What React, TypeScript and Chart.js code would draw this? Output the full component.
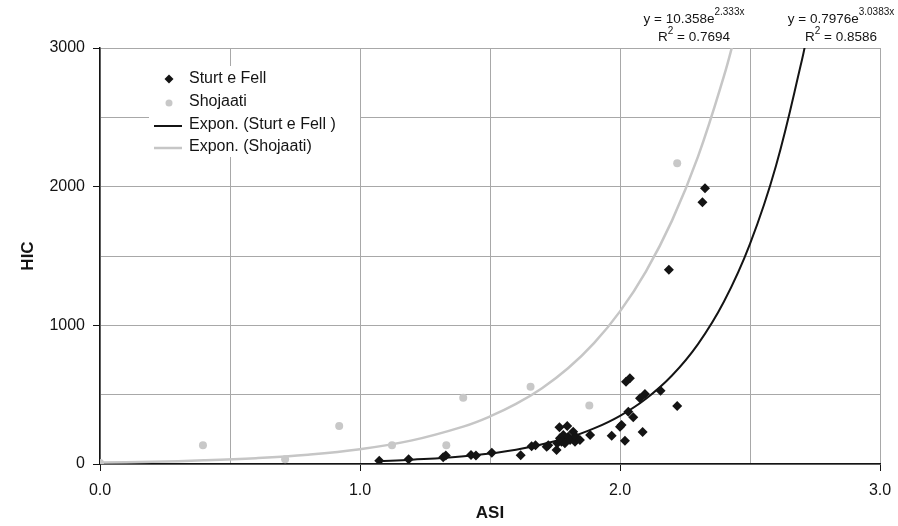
import React, { useEffect, useRef } from "react";
import { Chart, registerables } from "chart.js";
Chart.register(...registerables);

// Sturt e Fell measurements (ASI, HIC)
const sturtASI = [1.074, 1.187, 1.32, 1.33, 1.427, 1.446, 1.507, 1.618, 1.66, 1.675, 1.718, 1.724, 1.756, 1.759, 1.767, 1.769, 1.775, 1.782, 1.788, 1.797, 1.801, 1.808, 1.82, 1.827, 1.83, 1.846, 1.885, 1.968, 2.0, 2.006, 2.019, 2.023, 2.032, 2.038, 2.051, 2.077, 2.087, 2.096, 2.156, 2.188, 2.22, 2.317, 2.327];
const sturtHIC = [24, 34, 48, 62, 65, 62, 82, 64, 128, 135, 125, 135, 101, 150, 265, 185, 161, 209, 149, 274, 197, 173, 233, 161, 197, 173, 209, 204, 269, 281, 168, 594, 377, 618, 337, 474, 231, 505, 529, 1400, 418, 1887, 1988];

// Shojaati measurements (ASI, HIC)
const shojaatiASI = [0, 0.396, 0.712, 0.92, 1.123, 1.332, 1.397, 1.656, 1.882, 2.22];
const shojaatiHIC = [8, 135, 34, 274, 135, 135, 478, 557, 421, 2168];

// Exponential trend lines
const trendShojaatiASI = [0, 0.2, 0.4, 0.6, 0.8, 1.0, 1.2, 1.4, 1.5, 1.6, 1.7, 1.8, 1.9, 2.0, 2.1, 2.2, 2.3, 2.4, 2.45];
const trendShojaatiHIC = [10.4, 16.5, 26.3, 42.0, 67.0, 106.8, 170.3, 271.5, 342.8, 432.9, 546.7, 690.3, 871.6, 1100.7, 1389.9, 1755.2, 2216.4, 2798.7, 3145];
const trendSturtASI = [1.07, 1.2, 1.4, 1.6, 1.8, 1.9, 2.0, 2.1, 2.2, 2.3, 2.4, 2.5, 2.6, 2.7, 2.72];
const trendSturtHIC = [20.6, 30.6, 56.1, 103.0, 189.2, 256.4, 347.5, 470.8, 638.0, 864.6, 1171.5, 1587.6, 2151.2, 2915, 3098];

const seriesNames = ["Sturt e Fell", "Shojaati", "Expon. (Sturt e Fell )", "Expon. (Shojaati)"];
const equationShojaati = { base: "y = 10.358e", sup: "2.333x", r2: "0.7694" };
const equationSturt = { base: "y = 0.7976e", sup: "3.0383x", r2: "0.8586" };

const FONT = "'Liberation Sans', Arial, Helvetica, sans-serif";
const BLACK = "#141414";
const GRAY_PT = "#c8c8c8";
const GRAY_LINE = "#c6c6c6";
const GRID = "#a8a8a8";

const pts = (xs: number[], ys: number[]) => xs.map((x, i) => ({ x, y: ys[i] }));

export default function App() {
  const ref = useRef<HTMLCanvasElement>(null);
  useEffect(() => {
    document.body.style.margin = "0";
    const canvas = ref.current!;

    const drawEq = (ctx: CanvasRenderingContext2D, eq: { base: string; sup: string; r2: string }, cx: number) => {
      ctx.save();
      ctx.fillStyle = BLACK;
      ctx.textBaseline = "alphabetic";
      ctx.textAlign = "left";
      const f1 = `13.5px ${FONT}`;
      const f2 = `10px ${FONT}`;
      ctx.font = f1;
      const w1 = ctx.measureText(eq.base).width;
      ctx.font = f2;
      const w2 = ctx.measureText(eq.sup).width;
      let x = cx - (w1 + w2) / 2;
      ctx.font = f1;
      ctx.fillText(eq.base, x, 23);
      ctx.font = f2;
      ctx.fillText(eq.sup, x + w1, 15);
      ctx.font = f1;
      const a = "R";
      const b = " = " + eq.r2;
      const wa = ctx.measureText(a).width;
      const wb = ctx.measureText(b).width;
      ctx.font = f2;
      const ws = ctx.measureText("2").width;
      x = cx - (wa + ws + wb) / 2;
      ctx.font = f1;
      ctx.fillText(a, x, 41);
      ctx.font = f2;
      ctx.fillText("2", x + wa, 34);
      ctx.font = f1;
      ctx.fillText(b, x + wa + ws, 41);
      ctx.restore();
    };

    const overlay = {
      id: "overlay",
      afterDraw(chart: any) {
        const ctx: CanvasRenderingContext2D = chart.ctx;
        ctx.save();
        ctx.fillStyle = "#ffffff";
        ctx.fillRect(149, 66, 211, 91);
        const rows = [79, 102, 125, 147];
        ctx.font = `16px ${FONT}`;
        ctx.textBaseline = "middle";
        ctx.textAlign = "left";
        ctx.fillStyle = BLACK;
        rows.forEach((y, i) => ctx.fillText(seriesNames[i], 189, y));
        ctx.fillStyle = BLACK;
        ctx.beginPath();
        ctx.moveTo(169, rows[0] - 4.5);
        ctx.lineTo(173.5, rows[0]);
        ctx.lineTo(169, rows[0] + 4.5);
        ctx.lineTo(164.5, rows[0]);
        ctx.closePath();
        ctx.fill();
        ctx.fillStyle = GRAY_PT;
        ctx.beginPath();
        ctx.arc(169, rows[1] + 1, 3.5, 0, Math.PI * 2);
        ctx.fill();
        ctx.lineWidth = 2;
        ctx.strokeStyle = BLACK;
        ctx.beginPath();
        ctx.moveTo(154, rows[2] + 1);
        ctx.lineTo(182, rows[2] + 1);
        ctx.stroke();
        ctx.lineWidth = 2.5;
        ctx.strokeStyle = GRAY_LINE;
        ctx.beginPath();
        ctx.moveTo(154, rows[3] + 1);
        ctx.lineTo(182, rows[3] + 1);
        ctx.stroke();
        ctx.restore();
        drawEq(ctx, equationShojaati, 694);
        drawEq(ctx, equationSturt, 841);
      },
    };

    const chart = new Chart(canvas, {
      type: "scatter",
      data: {
        datasets: [
          {
            label: seriesNames[0],
            data: pts(sturtASI, sturtHIC),
            pointStyle: "rectRot",
            pointRadius: 5,
            backgroundColor: BLACK,
            borderColor: BLACK,
            borderWidth: 0,
            order: 1,
          },
          {
            label: seriesNames[1],
            data: pts(shojaatiASI, shojaatiHIC),
            pointStyle: "circle",
            pointRadius: 4,
            backgroundColor: GRAY_PT,
            borderColor: GRAY_PT,
            borderWidth: 0,
            order: 2,
          },
          {
            label: seriesNames[2],
            type: "line",
            data: pts(trendSturtASI, trendSturtHIC),
            borderColor: BLACK,
            borderWidth: 2,
            pointRadius: 0,
            tension: 0.4,
            fill: false,
            order: 3,
          },
          {
            label: seriesNames[3],
            type: "line",
            data: pts(trendShojaatiASI, trendShojaatiHIC),
            borderColor: GRAY_LINE,
            borderWidth: 2.5,
            pointRadius: 0,
            tension: 0.4,
            fill: false,
            order: 4,
          },
        ] as any,
      },
      options: {
        responsive: false,
        animation: false,
        devicePixelRatio: 1,
        layout: { padding: { left: 8, top: 48, right: 18, bottom: 0 } },
        plugins: { legend: { display: false }, tooltip: { enabled: false } },
        scales: {
          x: {
            type: "linear",
            min: 0,
            max: 3,
            afterFit: (s: any) => { s.height = 62; s.paddingRight = 0; s.paddingLeft = 0; },
            ticks: {
              stepSize: 0.5,
              autoSkip: false,
              maxRotation: 0,
              color: BLACK,
              font: { family: FONT, size: 16 },
              padding: 10,
              callback: (v: any) => (Math.abs(v - Math.round(v)) < 1e-9 ? Number(v).toFixed(1) : ""),
            },
            grid: {
              color: GRID,
              lineWidth: 1,
              tickLength: 7,
              tickColor: (c: any) => (c.tick && Math.abs(c.tick.value - Math.round(c.tick.value)) < 1e-9 ? BLACK : "rgba(0,0,0,0)"),
            },
            border: { color: BLACK, width: 1.5 },
            title: { display: true, text: "ASI", color: BLACK, font: { family: FONT, size: 17, weight: "bold" }, padding: { top: 0, bottom: 2 } },
          },
          y: {
            type: "linear",
            min: 0,
            max: 3000,
            afterFit: (s: any) => { s.width = 92; s.paddingTop = 0; s.paddingBottom = 0; },
            ticks: {
              stepSize: 500,
              autoSkip: false,
              color: BLACK,
              font: { family: FONT, size: 16 },
              padding: 8,
              callback: (v: any) => (v % 1000 === 0 ? String(v) : ""),
            },
            grid: {
              color: GRID,
              lineWidth: 1,
              tickLength: 7,
              tickColor: (c: any) => (c.tick && c.tick.value % 1000 === 0 ? BLACK : "rgba(0,0,0,0)"),
            },
            border: { color: BLACK, width: 1.5 },
            title: { display: true, text: "HIC", color: BLACK, font: { family: FONT, size: 17, weight: "bold" }, padding: { top: 10, bottom: 0 } },
          },
        },
      } as any,
      plugins: [overlay],
    });
    return () => chart.destroy();
  }, []);
  return (
    <div style={{ width: 898, height: 526 }}>
      <canvas ref={ref} width={898} height={526} style={{ display: "block" }} />
    </div>
  );
}
